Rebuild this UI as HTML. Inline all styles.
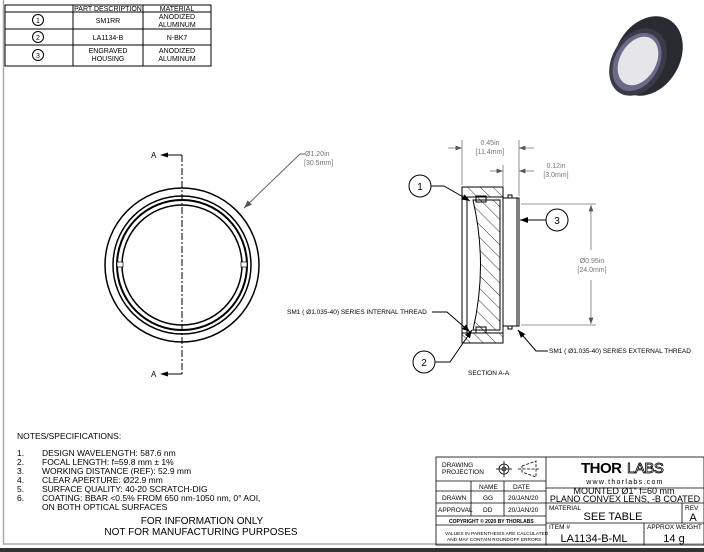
<!DOCTYPE html>
<html><head><meta charset="utf-8"><style>
html,body{margin:0;padding:0;background:#fff;}
svg{display:block;font-family:"Liberation Sans",sans-serif;}
</style></head><body>
<svg width="704" height="552" viewBox="0 0 704 552" xmlns="http://www.w3.org/2000/svg">
<defs>
<pattern id="h" patternUnits="userSpaceOnUse" width="9" height="9" patternTransform="rotate(-45)">
<line x1="0" y1="0" x2="0" y2="9" stroke="#000" stroke-width="0.8"/></pattern>
<marker id="ar" markerWidth="8" markerHeight="6" refX="8" refY="3" orient="auto"><path d="M0,0 L8,3 L0,6z" fill="#555"/></marker>
<marker id="ak" markerWidth="8" markerHeight="6" refX="8" refY="3" orient="auto"><path d="M0,0 L8,3 L0,6z" fill="#000"/></marker>
</defs>
<rect x="0" y="0" width="704" height="552" fill="#fff"/>
<rect x="3.5" y="-2" width="710" height="546" fill="none" stroke="#aaa" stroke-width="1.5"/>
<rect x="0" y="548" width="704" height="4" fill="#333"/>
<g stroke="#000" stroke-width="1" fill="none">
<rect x="5" y="5" width="206" height="61"/>
<line x1="5" y1="12" x2="211" y2="12"/><line x1="5" y1="29" x2="211" y2="29"/><line x1="5" y1="45" x2="211" y2="45"/>
<line x1="73" y1="5" x2="73" y2="66"/><line x1="143" y1="5" x2="143" y2="66"/>
<circle cx="38" cy="20" r="5.5"/><circle cx="38" cy="37" r="5.5"/><circle cx="38" cy="55" r="5.5"/>
</g>
<g font-size="7" text-anchor="middle" fill="#000">
<text x="108" y="11">PART DESCRIPTION</text><text x="177" y="11">MATERIAL</text>
<text x="38" y="23">1</text><text x="38" y="40">2</text><text x="38" y="58">3</text>
<text x="108" y="23">SM1RR</text><text x="177" y="19">ANODIZED</text><text x="177" y="27">ALUMINUM</text>
<text x="108" y="40">LA1134-B</text><text x="177" y="40">N-BK7</text>
<text x="108" y="53">ENGRAVED</text><text x="108" y="61">HOUSING</text><text x="177" y="53">ANODIZED</text><text x="177" y="61">ALUMINUM</text>
</g>
<!-- 3D image -->
<g>
<ellipse cx="648" cy="56" rx="32" ry="42" fill="#2a2a32" transform="rotate(30 648 56)"/>
<ellipse cx="638" cy="62" rx="26" ry="36" fill="#3a3a48" transform="rotate(30 638 62)"/>
<ellipse cx="637" cy="62" rx="22" ry="31" fill="#6a6a88" transform="rotate(30 637 62)"/>
<ellipse cx="638" cy="61" rx="18" ry="26" fill="#e6e6ea" transform="rotate(30 638 61)"/>
</g>
<g fill="none" stroke="#000">
<circle cx="182" cy="265" r="77" stroke-width="1.5"/>
<circle cx="182" cy="265" r="69" stroke-width="1.5"/>
<circle cx="182" cy="265" r="65" stroke-width="2"/>
<circle cx="182" cy="265" r="60" stroke-width="1.5"/>
<line x1="182" y1="155" x2="182" y2="374" stroke-dasharray="7,2,2,2" stroke-width="1"/>
<line x1="165" y1="155" x2="182" y2="155"/><line x1="165" y1="374" x2="182" y2="374"/>
</g>
<path d="M160,155 l8,-2.5 v5z M160,374 l8,-2.5 v5z" fill="#000"/>
<rect x="117" y="262" width="6" height="5" fill="#fff" stroke="#000" stroke-width="0.7"/>
<rect x="241" y="262" width="6" height="5" fill="#fff" stroke="#000" stroke-width="0.7"/>
<g font-size="8" fill="#000"><text x="151" y="158">A</text><text x="151" y="377">A</text></g>
<line x1="300" y1="154" x2="244" y2="208" stroke="#666" stroke-width="1" marker-end="url(#ar)"/>
<line x1="300" y1="154" x2="305" y2="154" stroke="#666"/>
<g font-size="7" fill="#777"><text x="305" y="156">Ø1.20in</text><text x="304" y="165">[30.5mm]</text></g>
<g stroke="#000" stroke-width="1">
<rect x="462" y="187" width="41" height="156" fill="#fff"/>
<rect x="462" y="187" width="41" height="10" fill="url(#h)"/>
<rect x="462" y="333" width="41" height="10" fill="url(#h)"/>
<rect x="503" y="198" width="16" height="128" fill="#fff"/>
<line x1="517" y1="198" x2="517" y2="326"/>
<line x1="467" y1="197" x2="467" y2="333"/>
<path d="M473,200 L500,200 L500,330 L473,330 Q488,265 473,200z" fill="url(#h)"/>
<rect x="476" y="196" width="10" height="6" fill="url(#h)"/>
<rect x="476" y="327" width="10" height="6" fill="url(#h)"/>
<path d="M503,198 h5 v-3 h4 v3 h7" fill="none"/>
<path d="M503,326 h5 v3 h4 v-3 h7" fill="none"/>
</g>
<g stroke="#777" stroke-width="0.8" fill="none">
<line x1="462" y1="185" x2="462" y2="140"/><line x1="519" y1="196" x2="519" y2="140"/>
<line x1="503" y1="186" x2="503" y2="165"/>
<line x1="448" y1="148" x2="462" y2="148" marker-end="url(#ar)"/>
<line x1="534" y1="148" x2="519" y2="148" marker-end="url(#ar)"/>
<line x1="490" y1="171" x2="503" y2="171" marker-end="url(#ar)"/>
<line x1="534" y1="171" x2="519" y2="171" marker-end="url(#ar)"/>
<line x1="521" y1="204" x2="596" y2="204"/><line x1="521" y1="325" x2="596" y2="325"/>
<line x1="591" y1="250" x2="591" y2="205" marker-end="url(#ar)"/>
<line x1="591" y1="280" x2="591" y2="324" marker-end="url(#ar)"/>
</g>
<g font-size="7" fill="#777" text-anchor="middle">
<text x="490" y="145">0.45in</text><text x="490" y="154">[11.4mm]</text>
<text x="556" y="168">0.12in</text><text x="556" y="177">[3.0mm]</text>
<text x="592" y="263">Ø0.95in</text><text x="592" y="272">[24.0mm]</text>
</g>
<g stroke="#000" stroke-width="1" fill="none">
<circle cx="420" cy="186" r="11"/><circle cx="557" cy="220" r="11"/><circle cx="424" cy="362" r="11"/>
<polyline points="431,186 444,186 470,201" marker-end="url(#ak)"/>
<line x1="546" y1="220" x2="520" y2="220" marker-end="url(#ak)"/>
<polyline points="435,362 450,362 472,330" marker-end="url(#ak)"/>
<polyline points="432,312 447,312 470,332" marker-end="url(#ak)"/>
<polyline points="548,351 536,351 518,330" marker-end="url(#ak)"/>
</g>
<g font-size="10" text-anchor="middle" fill="#000">
<text x="420" y="190">1</text><text x="557" y="224">3</text><text x="424" y="366">2</text>
</g>
<g font-size="6.5" fill="#000">
<text x="287" y="314">SM1 ( Ø1.035-40) SERIES INTERNAL THREAD</text>
<text x="549" y="353">SM1 ( Ø1.035-40) SERIES EXTERNAL THREAD</text>
<text x="468" y="375">SECTION A-A</text>
</g>
<g font-size="8.5" fill="#000">
<text x="17" y="439">NOTES/SPECIFICATIONS:</text>
<text x="17" y="456">1.</text><text x="42" y="456">DESIGN WAVELENGTH: 587.6 nm</text>
<text x="17" y="465">2.</text><text x="42" y="465">FOCAL LENGTH: f=59.8 mm ± 1%</text>
<text x="17" y="474">3.</text><text x="42" y="474">WORKING DISTANCE (REF): 52.9 mm</text>
<text x="17" y="483">4.</text><text x="42" y="483">CLEAR APERTURE: Ø22.9 mm</text>
<text x="17" y="492">5.</text><text x="42" y="492">SURFACE QUALITY: 40-20 SCRATCH-DIG</text>
<text x="17" y="501">6.</text><text x="42" y="501">COATING: BBAR &lt;0.5% FROM 650 nm-1050 nm, 0° AOI,</text>
<text x="42" y="510">ON BOTH OPTICAL SURFACES</text>
</g>
<g font-size="10" fill="#000" text-anchor="middle">
<text x="202" y="524">FOR INFORMATION ONLY</text>
<text x="201" y="535">NOT FOR MANUFACTURING PURPOSES</text>
</g>
<g stroke="#000" stroke-width="0.8" fill="none">
<rect x="436" y="457" width="268" height="88"/>
<line x1="546" y1="457" x2="546" y2="545"/>
<line x1="436" y1="481" x2="546" y2="481"/>
<line x1="436" y1="491" x2="546" y2="491"/>
<line x1="436" y1="503" x2="704" y2="503"/>
<line x1="436" y1="516" x2="546" y2="516"/>
<line x1="436" y1="525" x2="546" y2="525"/>
<line x1="471" y1="481" x2="471" y2="516"/>
<line x1="504" y1="481" x2="504" y2="516"/>
<line x1="546" y1="488" x2="704" y2="488"/>
<line x1="546" y1="523" x2="704" y2="523"/>
<line x1="644" y1="523" x2="644" y2="545"/>
<line x1="682" y1="503" x2="682" y2="523"/>
<circle cx="504" cy="469" r="5"/><circle cx="504" cy="469" r="2"/>
<line x1="496" y1="469" x2="512" y2="469"/><line x1="504" y1="461" x2="504" y2="477"/>
<path d="M522,466 L536,461 L536,477 L522,472z M518,469 h22" stroke-dasharray="3,1.5"/>
</g>
<g font-size="6.5" fill="#000">
<text x="442" y="467">DRAWING</text><text x="442" y="474">PROJECTION</text>
<text x="479" y="489">NAME</text><text x="513" y="489">DATE</text>
<text x="442" y="500">DRAWN</text><text x="483" y="500">GG</text><text x="508" y="500">20/JAN/20</text>
<text x="438" y="512">APPROVAL</text><text x="483" y="512">DD</text><text x="508" y="512">20/JAN/20</text>
<text x="449" y="523" font-size="5" font-weight="bold">COPYRIGHT © 2020 BY THORLABS</text>
<text x="445" y="535" font-size="4.8">VALUES IN PARENTHESIS ARE CALCULATED</text>
<text x="447" y="541" font-size="4.8">AND MAY CONTAIN ROUNDOFF ERRORS</text>
<text x="549" y="510">MATERIAL</text><text x="685" y="510">REV</text>
<text x="549" y="529">ITEM #</text><text x="647" y="529">APPROX WEIGHT</text>
</g>
<text x="581" y="473" font-size="15" font-weight="bold" fill="#000" letter-spacing="-0.5">THOR</text>
<text x="627" y="473" font-size="15" fill="#fff" stroke="#000" stroke-width="0.8" letter-spacing="-0.5">LABS</text>
<text x="625" y="484" font-size="7" text-anchor="middle" letter-spacing="1.3">www.thorlabs.com</text>
<g font-size="9" text-anchor="middle" fill="#000">
<text x="624" y="494">MOUNTED Ø1" f=60 mm</text>
<text x="625" y="502">PLANO CONVEX LENS, -B COATED</text>
<text x="613" y="520" font-size="11">SEE TABLE</text>
<text x="693" y="521" font-size="11">A</text>
<text x="594" y="542" font-size="11">LA1134-B-ML</text>
<text x="674" y="542" font-size="11">14 g</text>
</g>
</svg>
</body></html>
